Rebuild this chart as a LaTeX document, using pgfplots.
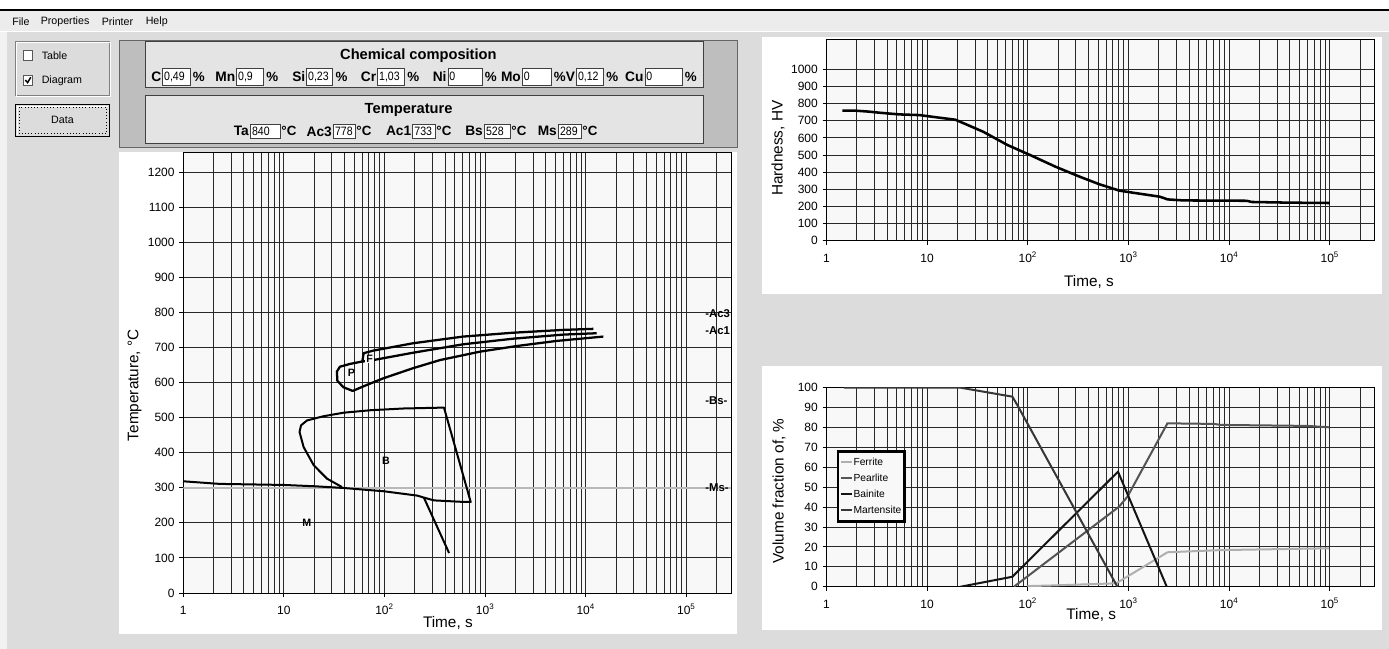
\documentclass[border=0pt]{standalone}
\usepackage{fontspec}
\setmainfont{Liberation Sans}
\usepackage{graphicx}
\usepackage{pgfplots}
\pgfplotsset{compat=1.18}
\definecolor{bg}{RGB}{220,220,220}
\definecolor{menubg}{RGB}{236,236,236}
\definecolor{cont}{RGB}{190,190,190}
\definecolor{boxbg}{RGB}{228,228,228}
\definecolor{plotbg}{RGB}{248,248,248}
\definecolor{gridc}{RGB}{40,40,40}
\definecolor{ferr}{RGB}{175,175,175}
\definecolor{pear}{RGB}{85,85,85}
\definecolor{bain}{RGB}{20,20,20}
\definecolor{mart}{RGB}{55,55,55}
\newcommand{\fs}[1]{\fontsize{#1}{#1}\selectfont}
\newcommand{\val}[1]{\scalebox{0.87}[1]{\fs{9.1}#1}}
\pgfplotsset{every axis/.append style={
  scale only axis,
  axis background/.style={fill=plotbg},
  xmajorgrids, xminorgrids, ymajorgrids,
  major grid style={gridc, line width=0.75pt},
  minor grid style={gridc, line width=0.75pt},
  tick align=outside, major tick length=3pt, minor tick length=0pt,
  xtick pos=bottom, ytick pos=left,
  tick style={black, line width=0.75pt},
  axis line style={black, line width=0.75pt},
  tick label style={font=\fs{9}},
  xticklabel style={anchor=base, yshift=-13.2pt},
  label style={font=\fs{11.5}},
}}
\begin{document}
\begin{tikzpicture}
\begin{scope}[x=0.75pt,y=-0.75pt]
\path[use as bounding box] (0,0) rectangle (1389,649);
\fill[bg] (0,0) rectangle (1389,649);
\fill[white] (0,0) rectangle (1389,9);
\fill[black] (0,9) rectangle (1389,11);
\fill[menubg] (0,11) rectangle (1389,31);
\fill[white] (0,31) rectangle (1389,32);
\fill[black!5] (0,32) rectangle (7,649);
\node[anchor=west,inner sep=0,font=\fs{8}] at (12,21.5) {File};
\node[anchor=west,inner sep=0,font=\fs{8}] at (40.5,21.5) {Properties};
\node[anchor=west,inner sep=0,font=\fs{8}] at (101.5,21.5) {Printer};
\node[anchor=west,inner sep=0,font=\fs{8}] at (145.5,21.5) {Help};
% group box
\draw[gray] (15,41) rectangle (109,95);
\draw[white] (16,42) rectangle (110,96);
\filldraw[fill=white,draw=gray!70!black] (23.3,50.7) rectangle (32.7,60.7);
\filldraw[fill=white,draw=gray!70!black] (23.3,75.3) rectangle (32.7,85.3);
\draw[black,line width=1.1pt] (25.3,80) -- (27.6,82.6) -- (30.8,77.2);
\node[anchor=west,inner sep=0,font=\fs{8}] at (41.5,56) {Table};
\node[anchor=west,inner sep=0,font=\fs{8}] at (41.5,80.3) {Diagram};
% button
\filldraw[fill=bg,draw=black,line width=1.3pt] (15.5,104.5) rectangle (109.5,136.5);
\draw[white] (17,106) -- (17,135) ; \draw[white] (17,106) -- (108,106);
\draw[black,dotted] (19,107.5) rectangle (106.5,133.5);
\node[font=\fs{8}] at (62.5,120) {Data};
% container
\filldraw[fill=cont,draw=black!60] (119,40) rectangle (737,147);
\filldraw[fill=boxbg,draw=black!75] (145,41.7) rectangle (703,87.7);
\filldraw[fill=boxbg,draw=black!75] (145,95.7) rectangle (703,143);
\node[font=\bfseries\fs{11}] at (418.4,55.3) {Chemical composition};
\node[font=\bfseries\fs{11}] at (408.6,109.5) {Temperature};
% chem row
\foreach \s/\a/\b/\v in {C/162.7/190/{0,49},Mn/236.7/263.3/{0,9},Si/306.7/332.7/{0,23},Cr/377.7/404.3/{1,03},Ni/448/482/0,Mo/522.3/551/0,V/576.6/603.4/{0,12},Cu/644.9/682/0}{
  \filldraw[fill=white,draw=black!75] (\a,68) rectangle (\b,85);
  \node[anchor=west,inner sep=0] at (\a+1.2,76.6) {\val{\v}};
  \node[anchor=east,inner sep=0,font=\bfseries\fs{10.3}] at (\a-1.2,76.6) {\s};
  \node[anchor=west,inner sep=0,font=\bfseries\fs{10}] at (\b+2.7,76.6) {\%};
}
% temp row
\foreach \s/\a/\b/\v in {Ta/250.3/280/840,Ac3/333.3/355/778,Ac1/412.7/435/733,Bs/484.3/510/528,Ms/558.3/581/289}{
  \filldraw[fill=white,draw=black!75] (\a,124) rectangle (\b,138.5);
  \node[anchor=west,inner sep=0] at (\a+1.5,131.3) {\val{\v}};
  \node[anchor=east,inner sep=0,font=\bfseries\fs{10.3}] at (\a-1.2,131.3) {\s};
  \node[anchor=west,inner sep=0,font=\bfseries\fs{10}] at (\b+1.2,131.3) {°C};
}
% panels
\fill[white] (119,152) rectangle (737,634);
\fill[white] (762,37) rectangle (1382,294);
\fill[white] (762,366) rectangle (1382,630);
\end{scope}

% ---------------- main CCT diagram
\begin{axis}[at={(137.475pt,-444.75pt)}, anchor=south west,
  width=410.8pt, height=330.2pt,
  xmode=log, xmin=1, xmax=2.78e5,
  xtick={1,10,100,1000,10000,100000},
  xticklabels={1,10,10\textsuperscript{2},10\textsuperscript{3},10\textsuperscript{4},10\textsuperscript{5}},
  minor xtick={2,3,4,5,6,7,8,9,20,30,40,50,60,70,80,90,200,300,400,500,600,700,800,900,2000,3000,4000,5000,6000,7000,8000,9000,20000,30000,40000,50000,60000,70000,80000,90000,200000},
  ymin=0, ymax=1255, ytick={0,100,...,1200},
  yticklabel style={/pgf/number format/assume math mode=true, /pgf/number format/1000 sep={}},
  xlabel={Time, s}, ylabel={Temperature, °C},
  xlabel style={at={(axis description cs:0.483,-0.0688)}, anchor=center},
  ylabel style={at={(axis description cs:-0.0887,0.472)}, anchor=center},
]
\addplot[gray!55, line width=1.6pt] coordinates {(1,300) (2.78e5,300)};
\addplot[black, line width=1.5pt, line join=round] coordinates {
 (1,318.4) (2.3,311) (10,308) (21,304) (39,299.4) (98.5,290) (212,277.6) (246,272)};
\addplot[black, line width=1.5pt, line join=round] coordinates {(246,272) (438,114)};
\addplot[black, line width=1.5pt, line join=round] coordinates {
 (37.8,302) (26.8,326) (19.8,364) (15.7,416) (14.3,459) (14.8,478) (17.0,492) (24.9,504)
 (39.3,514) (72.5,521) (156,526) (390,528.5) (719,259.5) (575,260) (310,264) (246,272)};
\addplot[black, line width=1.7pt, line join=round] coordinates {
 (14960,731) (5150,718.6) (2060,704) (890,688) (356,664) (193,641) (97.3,612) (66.5,593)
 (48.3,576) (39,586.5) (34,605) (33.6,631) (36,645) (45.4,653) (59.3,659.6) (77.4,664)
 (193,685) (607,709) (1906,725) (5990,736.6) (12850,740.5)};
\addplot[black, line width=1.7pt, line join=round] coordinates {
 (60,656.8) (62,683.5) (77.4,691) (193,712) (607,731) (1906,742) (5990,750) (11900,753)};
\node[font=\bfseries\fs{8}, fill=plotbg, inner sep=0.6pt] at (axis cs:71,667) {F};
\node[font=\bfseries\fs{8}] at (axis cs:47,629) {P};
\node[font=\bfseries\fs{8}] at (axis cs:103.5,377) {B};
\node[font=\bfseries\fs{8}] at (axis cs:16.9,199) {M};
\node[font=\bfseries\fs{8.5}, anchor=west, inner sep=0] at (axis cs:1.535e5,795.5) {-Ac3};
\node[font=\bfseries\fs{8.5}, anchor=west, inner sep=0] at (axis cs:1.535e5,747) {-Ac1};
\node[font=\bfseries\fs{8.5}, anchor=west, inner sep=0] at (axis cs:1.535e5,548) {-Bs-};
\node[font=\bfseries\fs{8.5}, anchor=west, inner sep=0] at (axis cs:1.535e5,300) {-Ms-};
\end{axis}

% ---------------- hardness
\begin{axis}[at={(619.875pt,-180.525pt)}, anchor=south west,
  width=411pt, height=150.75pt,
  xmode=log, xmin=1, xmax=2.78e5,
  xtick={1,10,100,1000,10000,100000},
  xticklabels={1,10,10\textsuperscript{2},10\textsuperscript{3},10\textsuperscript{4},10\textsuperscript{5}},
  minor xtick={2,3,4,5,6,7,8,9,20,30,40,50,60,70,80,90,200,300,400,500,600,700,800,900,2000,3000,4000,5000,6000,7000,8000,9000,20000,30000,40000,50000,60000,70000,80000,90000,200000},
  ymin=0, ymax=1173, ytick={0,100,...,1000},
  yticklabel style={/pgf/number format/assume math mode=true, /pgf/number format/1000 sep={}},
  xlabel={Time, s}, ylabel={Hardness, HV},
  xlabel style={at={(axis description cs:0.479,-0.204)}, anchor=center},
  ylabel style={at={(axis description cs:-0.0885,0.46)}, anchor=center},
]
\addplot[black, line width=1.9pt, line join=round] coordinates {
 (1.44,759) (1.93,759) (2.67,753) (3.35,747) (5.3,737) (8.4,733) (13.2,718) (19.1,706)
 (36,636) (63,558) (109,496) (188,432) (326,374) (516,329) (814,292) (1170,278)
 (2040,257) (2450,241) (3530,235) (15000,233) (16700,226) (40000,222) (100000,220)};
\end{axis}

% ---------------- volume fraction
\begin{axis}[at={(619.875pt,-440.025pt)}, anchor=south west,
  width=411pt, height=149.25pt,
  xmode=log, xmin=1, xmax=2.78e5,
  xtick={1,10,100,1000,10000,100000},
  xticklabels={1,10,10\textsuperscript{2},10\textsuperscript{3},10\textsuperscript{4},10\textsuperscript{5}},
  minor xtick={2,3,4,5,6,7,8,9,20,30,40,50,60,70,80,90,200,300,400,500,600,700,800,900,2000,3000,4000,5000,6000,7000,8000,9000,20000,30000,40000,50000,60000,70000,80000,90000,200000},
  ymin=0, ymax=100, ytick={0,10,...,100},
  yticklabel style={/pgf/number format/assume math mode=true},
  xlabel={Time, s}, ylabel={Volume fraction of, \%},
  xlabel style={at={(axis description cs:0.483,-0.144)}, anchor=center},
  ylabel style={at={(axis description cs:-0.0867,0.481)}, anchor=center},
  legend style={at={(0.0186,0.687)}, anchor=north west, draw=black, line width=2pt,
    fill=plotbg, font=\fs{7.7}, inner xsep=1.5pt, inner ysep=4.2pt, row sep=3.8pt,
    nodes={inner sep=0.6pt, text height=5.6pt, text depth=1.4pt}},
  legend cell align=left,
  legend image code/.code={\draw[#1, line width=1.5pt] (0pt,0pt) -- (8pt,0pt);},
]
\addplot[ferr, line width=1.5pt] coordinates {
 (98.9,0.3) (169,0.6) (755,1.7) (2437,17.3) (8250,18.4) (98500,19.3)};
\addlegendentry{Ferrite}
\addplot[pear, line width=1.5pt] coordinates {
 (72.8,0) (805,40.2) (975,45.2) (2437,82.1) (7080,81.8) (8250,81.3) (60000,80.8) (98500,80.1)};
\addlegendentry{Pearlite}
\addplot[bain, line width=1.5pt] coordinates {
 (21.5,0) (70.2,5.0) (787,57.8) (2400,0)};
\addlegendentry{Bainite}
\addplot[mart, line width=1.5pt] coordinates {
 (1.49,100) (21.5,100) (70.2,95.5) (78.6,91.3) (776,0)};
\addlegendentry{Martensite}
\end{axis}
\end{tikzpicture}
\end{document}
